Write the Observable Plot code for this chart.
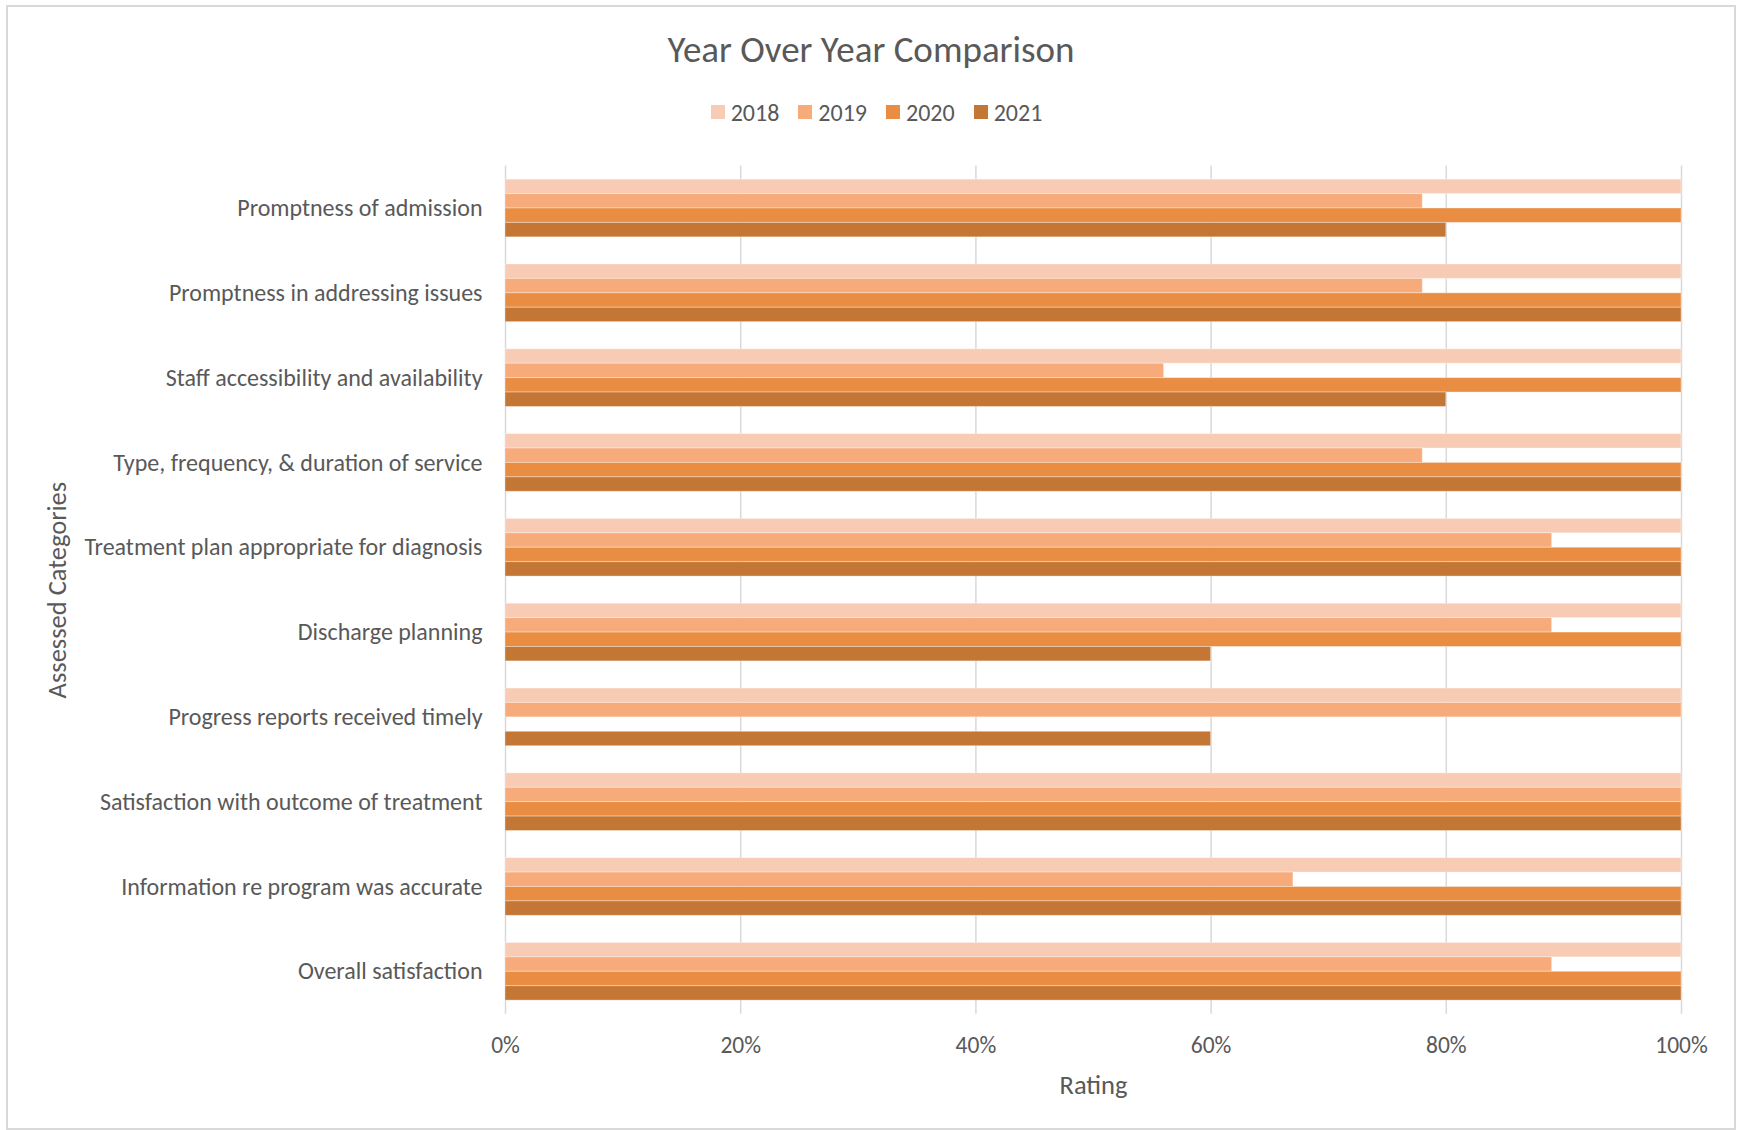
<!DOCTYPE html>
<html><head><meta charset="utf-8">
<script src="https://cdn.jsdelivr.net/npm/d3@7"></script>
<script src="https://cdn.jsdelivr.net/npm/@observablehq/plot@0.6"></script>
<style>
html,body{margin:0;padding:0;background:#fff;}
#frame{position:relative;width:1737px;height:1130px;overflow:hidden;font-family:Calibri,Carlito,Lato,sans-serif;color:#595959;}
#border{position:absolute;left:6px;top:5px;width:1730px;height:1125px;border:2px solid #d9d9d9;box-sizing:border-box;}
#title{position:absolute;left:6px;width:1730px;top:28px;text-align:center;font-size:37px;line-height:44px;}
#legend{position:absolute;left:6px;width:1730px;top:98px;height:28px;padding-left:11px;box-sizing:border-box;display:flex;justify-content:center;align-items:center;font-size:24px;}
.item{display:flex;align-items:center;margin:0 9.5px;}
.sw{width:14px;height:14px;margin-right:6px;}
#chart{position:absolute;left:0;top:140px;}
</style></head>
<body><div id="frame"><div id="border"></div>
<div id="title">Year Over Year Comparison</div>
<div id="legend"></div>
<div id="chart"></div></div>
<script>
const categories = [
  "Promptness of admission",
  "Promptness in addressing issues",
  "Staff accessibility and availability",
  "Type, frequency, & duration of service",
  "Treatment plan appropriate for diagnosis",
  "Discharge planning",
  "Progress reports received timely",
  "Satisfaction with outcome of treatment",
  "Information re program was accurate",
  "Overall satisfaction"
];
const years = ["2018", "2019", "2020", "2021"];
const v2018 = [1.00, 1.00, 1.00, 1.00, 1.00, 1.00, 1.00, 1.00, 1.00, 1.00];
const v2019 = [0.78, 0.78, 0.56, 0.78, 0.89, 0.89, 1.00, 1.00, 0.67, 0.89];
const v2020 = [1.00, 1.00, 1.00, 1.00, 1.00, 1.00, null, 1.00, 1.00, 1.00];
const v2021 = [0.80, 1.00, 0.80, 1.00, 1.00, 0.60, 0.60, 1.00, 1.00, 1.00];
const colors = ["#F8CBB4", "#F7AB7A", "#E88D42", "#C47634"];
const xTicks = [0, 0.2, 0.4, 0.6, 0.8, 1.0];
const seriesValues = [v2018, v2019, v2020, v2021];

const rows = [];
years.forEach((yr, k) => categories.forEach((c, i) => {
  const v = seriesValues[k][i];
  if (v != null) rows.push({category: c, year: yr, value: v});
}));

// legend
const leg = document.getElementById("legend");
years.forEach((yr, k) => {
  const it = document.createElement("div"); it.className = "item";
  const sw = document.createElement("div"); sw.className = "sw"; sw.style.background = colors[k];
  const tx = document.createElement("span"); tx.textContent = yr;
  it.appendChild(sw); it.appendChild(tx); leg.appendChild(it);
});

const W = 1737, H = 990;
const mTop = 25.6, mBottom = 116.3, mLeft = 505, mRight = 56;
const pIn = 0.32, pOut = 0.16;
const bw = d3.scaleBand().domain(categories).range([mTop, H - mBottom]).paddingInner(pIn).paddingOuter(pOut).bandwidth();
const sub = bw / years.length;

const font = "Calibri, Carlito, Lato, sans-serif";
const chart = Plot.plot({
  width: W, height: H,
  marginTop: mTop, marginBottom: mBottom, marginLeft: mLeft, marginRight: mRight,
  style: {fontFamily: font, color: "#595959", background: "transparent"},
  x: {domain: [0, 1]},
  y: {domain: categories, paddingInner: pIn, paddingOuter: pOut, round: false},
  marks: [
    Plot.gridX(xTicks, {stroke: "#d9d9d9", strokeOpacity: 1, strokeWidth: 1.5}),
    ...years.map((yr, k) => Plot.barX(rows.filter(d => d.year === yr), {
      x: "value", y: "category", fill: colors[k],
      insetTop: k * sub, insetBottom: (years.length - 1 - k) * sub,
      stroke: "white", strokeOpacity: 0.35, strokeWidth: 1
    })),
    Plot.axisX(xTicks, {tickFormat: d3.format(".0%"), tickSize: 0, tickPadding: 22, fontSize: 23.5, fill: "#595959",
      label: null}),
    Plot.axisX({tickSize: 0, ticks: [], fontSize: 26.5, fill: "#595959",
      label: "Rating", labelAnchor: "center", labelArrow: "none", labelOffset: 79.5}),
    Plot.axisY({tickSize: 0, tickPadding: 23, fontSize: 24, fill: "#595959", label: null}),
    Plot.axisY({tickSize: 0, ticks: [], fontSize: 26.5, fill: "#595959",
      label: "Assessed Categories", labelAnchor: "center", labelArrow: "none", labelOffset: 458})
  ]
});
document.getElementById("chart").appendChild(chart);
</script>
</body></html>
